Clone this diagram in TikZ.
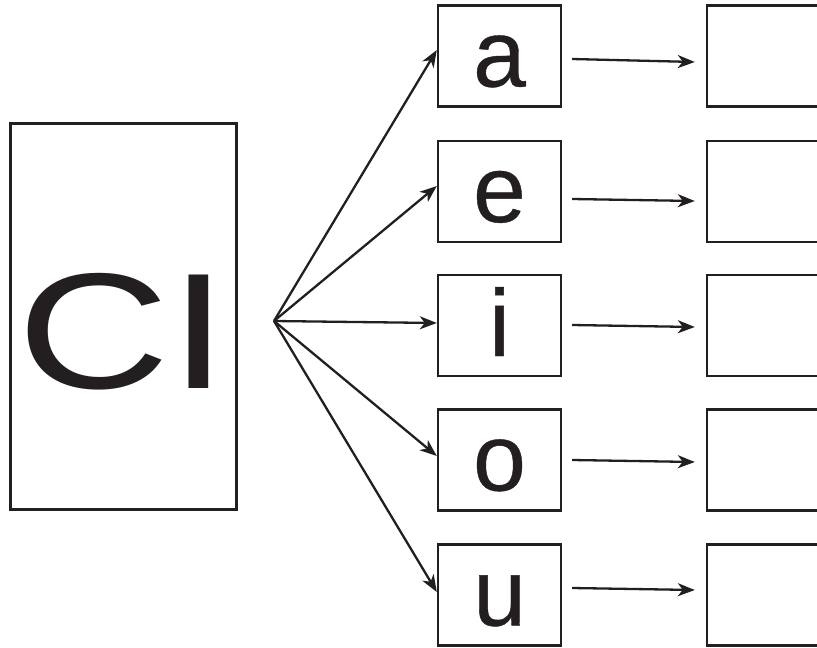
\documentclass[tikz,border=0pt]{standalone}
\usepackage{fontspec}
\setmainfont{Liberation Sans}
\newfontfamily\heavyfont[FakeBold=0.4]{Liberation Sans}
\usetikzlibrary{arrows.meta}
\definecolor{ink}{RGB}{35,31,32}
\tikzset{
  letterbox/.style={draw=ink, line width=2.4pt, minimum width=123pt, minimum height=101pt,
    inner sep=0pt, text height=61pt, text depth=0pt, font=\heavyfont\fontsize{95}{95}\selectfont, text=ink},
  emptybox/.style={draw=ink, line width=2.4pt, minimum width=123pt, minimum height=101pt, inner sep=0pt},
  bigbox/.style={draw=ink, line width=3pt, minimum width=226pt, minimum height=386pt,
    inner sep=0pt, text height=144pt, text depth=0pt, font=\fontsize{165}{165}\selectfont, text=ink},
  arr/.style={draw=ink, line width=2.3pt, -{Stealth[length=17pt,width=13pt,inset=5pt]}}
}
\begin{document}
\begin{tikzpicture}[x=1pt,y=-1pt]
\useasboundingbox (0,0) rectangle (817,648);
\node[bigbox] (ci) at (123,316) {\scalebox{1.28}[1]{CI}};
\coordinate (src) at (274,321);
\node[letterbox] (a) at (499.5,56) {a};
\node[letterbox] (e) at (499.5,191.5) {e};
\node[letterbox] (i) at (499.5,325.5) {i};
\node[letterbox] (o) at (499.5,460) {o};
\node[letterbox] (u) at (499.5,595) {u};
\node[emptybox] (ra) at (768.5,56) {};
\node[emptybox] (re) at (768.5,191.5) {};
\node[emptybox] (ri) at (768.5,325.5) {};
\node[emptybox] (ro) at (768.5,460) {};
\node[emptybox] (ru) at (768.5,595) {};
\draw[arr] (src) -- ([yshift=6pt]a.west);
\draw[arr] (src) -- ([yshift=5.5pt]e.west);
\draw[arr] (src) -- ([yshift=2.5pt]i.west);
\draw[arr] (src) -- ([yshift=4pt]o.west);
\draw[arr] (src) -- ([yshift=3pt]u.west);
\draw[arr] ([shift={(10,3)}]a.east) -- ([shift={(-11,6)}]ra.west);
\draw[arr] ([shift={(10,7.5)}]e.east) -- ([shift={(-11,9.5)}]re.west);
\draw[arr] ([shift={(10,-0.5)}]i.east) -- ([shift={(-11,1.5)}]ri.west);
\draw[arr] ([shift={(10,0)}]o.east) -- ([shift={(-11,2)}]ro.west);
\draw[arr] ([shift={(10,-7)}]u.east) -- ([shift={(-11,-5)}]ru.west);
\end{tikzpicture}
\end{document}
